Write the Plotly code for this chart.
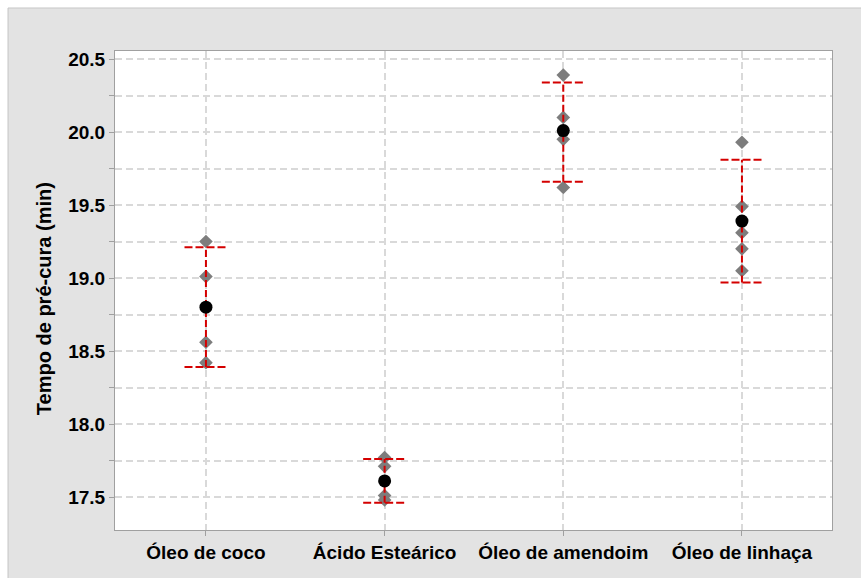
import plotly.graph_objects as go

# Interval plot: individual observations, group means and 95% confidence intervals
categories = ["Óleo de coco", "Ácido Esteárico", "Óleo de amendoim", "Óleo de linhaça"]

observations = [
    [19.25, 19.01, 18.56, 18.42],
    [17.77, 17.71, 17.51, 17.48],
    [20.39, 20.10, 19.95, 19.62],
    [19.93, 19.49, 19.31, 19.20, 19.05],
]
means = [18.80, 17.61, 20.01, 19.39]
ci_low = [18.39, 17.46, 19.66, 18.97]
ci_high = [19.21, 17.76, 20.34, 19.81]

y_tick_values = [17.5, 18.0, 18.5, 19.0, 19.5, 20.0, 20.5]
y_tick_labels = ["17.5", "18.0", "18.5", "19.0", "19.5", "20.0", "20.5"]

FONT = "Liberation Sans, Arial, sans-serif"
RED = "#d40000"
CAP = 0.12

fig = go.Figure()

# individual observations (grey diamonds)
obs_x, obs_y = [], []
for i, vals in enumerate(observations):
    obs_x += [i] * len(vals)
    obs_y += vals
fig.add_trace(go.Scatter(
    x=obs_x, y=obs_y, mode="markers",
    marker=dict(symbol="diamond", size=10.5, color="#7d7d7d"),
    showlegend=False, hoverinfo="y",
))

# confidence interval whiskers and caps (red dashed)
for i in range(len(categories)):
    fig.add_trace(go.Scatter(
        x=[i, i], y=[ci_low[i], ci_high[i]], mode="lines",
        line=dict(color=RED, width=2, dash="7px,3px"),
        showlegend=False, hoverinfo="skip",
    ))
    for v in (ci_low[i], ci_high[i]):
        fig.add_trace(go.Scatter(
            x=[i - CAP, i + CAP], y=[v, v], mode="lines",
            line=dict(color=RED, width=2, dash="8px,3px"),
            showlegend=False, hoverinfo="skip",
        ))

# group means (black dots)
fig.add_trace(go.Scatter(
    x=list(range(len(categories))), y=means, mode="markers",
    marker=dict(symbol="circle", size=13, color="black"),
    showlegend=False, hoverinfo="y",
))

# grey frame around the figure and white plotting panel
fig.add_shape(type="rect", xref="paper", yref="paper",
              x0=-0.1492, x1=1.06, y0=-0.12, y1=1.0898,
              fillcolor="#e3e3e3", line=dict(color="#c6c6c6", width=1),
              layer="below")
fig.add_shape(type="rect", xref="paper", yref="paper",
              x0=0, x1=1, y0=0, y1=1,
              fillcolor="white", line=dict(width=0), layer="below")

fig.add_annotation(
    text="Tempo de pré-cura (min)", xref="paper", yref="paper",
    x=-0.099, y=0.482, xanchor="center", yanchor="middle",
    textangle=-90, showarrow=False,
    font=dict(family=FONT, size=20, color="black", weight="bold"),
)

grid = dict(gridcolor="#d9d9d9", gridwidth=2, griddash="7px,4px")

fig.update_xaxes(
    range=[-0.509, 3.504],
    tickmode="array", tickvals=list(range(len(categories))), ticktext=categories,
    showgrid=True, **grid,
    ticks="outside", ticklen=5, tickcolor="#a0a0a0", tickwidth=1,
    showline=True, linecolor="#a0a0a0", linewidth=1, mirror=True,
    zeroline=False,
    tickfont=dict(family=FONT, size=19, color="black", weight="bold"),
)
fig.update_yaxes(
    range=[17.274, 20.555],
    tickmode="array", tickvals=y_tick_values, ticktext=y_tick_labels,
    showgrid=True, **grid,
    ticks="outside", ticklen=5, tickcolor="#a0a0a0", tickwidth=1,
    minor=dict(dtick=0.25, tick0=17.25, showgrid=True, ticks="outside", ticklen=5,
               tickcolor="#a0a0a0", gridcolor="#d9d9d9", gridwidth=2, griddash="7px,4px"),
    showline=True, linecolor="#a0a0a0", linewidth=1, mirror=True,
    zeroline=False,
    tickfont=dict(family=FONT, size=19, color="black", weight="bold"),
)

fig.update_layout(
    width=861, height=578,
    margin=dict(l=115, r=29, t=51, b=48),
    paper_bgcolor="white", plot_bgcolor="white",
    showlegend=False,
)

fig.write_html("out.html")
